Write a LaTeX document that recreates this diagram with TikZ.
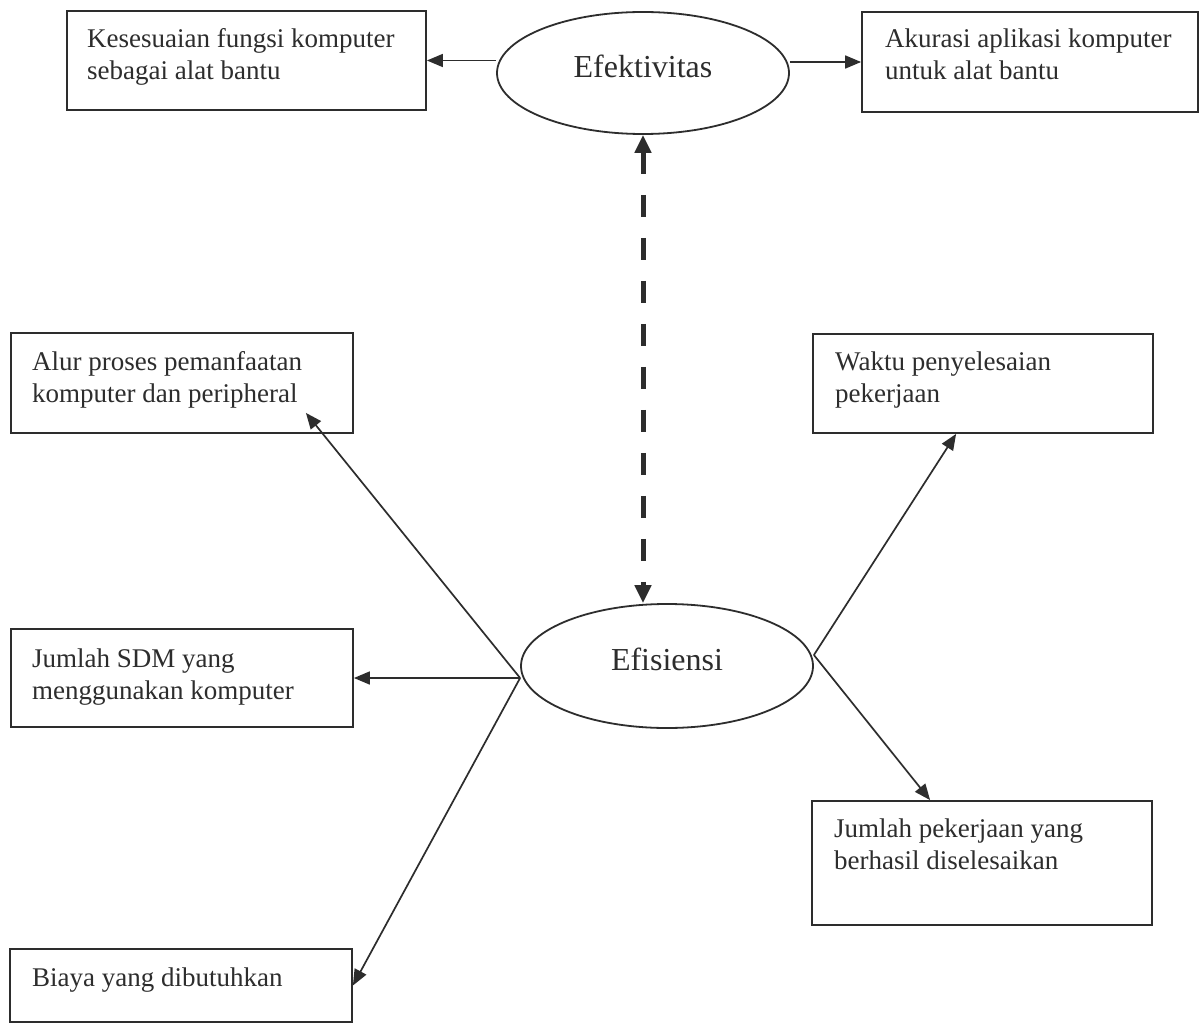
\documentclass[tikz,border=0pt]{standalone}
\usepackage{fontspec}
\setmainfont{Liberation Serif}
\usetikzlibrary{arrows.meta,calc,shapes.geometric}
\definecolor{ink}{RGB}{45,45,45}
\begin{document}
\begin{tikzpicture}[x=1pt,y=-1pt,
  box/.style={draw=ink, line width=1.8pt, rectangle, inner sep=0pt},
  oval/.style={draw=ink, line width=1.8pt, ellipse, inner sep=0pt, minimum width=292pt, minimum height=122pt,
     font=\fontsize{32}{36}\selectfont, text=ink, text height=22pt, text depth=13pt},
  lbl/.style={anchor=base west, align=left, inner sep=0pt, text=ink, font=\fontsize{27}{32}\selectfont},
  arr/.style={draw=ink, line width=1.7pt, -{Triangle[length=16pt,width=13pt]}},
  darr/.style={draw=ink, line width=5pt, dash pattern=on 22pt off 21pt,
     {Triangle[length=18pt,width=16pt]}-{Triangle[length=18pt,width=16pt]}}
]
\useasboundingbox[fill=white] (0,0) rectangle (1204,1024);

% ellipses
\node[oval] (e1) at (643,73) {Efektivitas};
\node[oval, minimum height=124pt] (e2) at (667,666) {Efisiensi};

% boxes (text nodes anchored at the baseline of their last line)
\node[box, minimum width=359pt, minimum height=99pt] (b1) at (246.5,60.5) {};
\node[lbl] (t1) at (87,80) {Kesesuaian fungsi komputer\\sebagai alat bantu};

\node[box, minimum width=336pt, minimum height=100pt] (b3) at (1030,62) {};
\node[lbl] (t3) at (885,80) {Akurasi aplikasi komputer\\untuk alat bantu};

\node[box, minimum width=342pt, minimum height=100pt] (alur) at (182,383) {};
\node[lbl] (talur) at (32,402) {Alur proses pemanfaatan\\komputer dan peripheral};

\node[box, minimum width=340pt, minimum height=99pt] (waktu) at (983,383.5) {};
\node[lbl] (twaktu) at (835,402) {Waktu penyelesaian\\pekerjaan};

\node[box, minimum width=342pt, minimum height=98pt] (sdm) at (182,678) {};
\node[lbl] (tsdm) at (32,699) {Jumlah SDM yang\\menggunakan komputer};

\node[box, minimum width=340pt, minimum height=124pt] (pek) at (982,863) {};
\node[lbl] (tpek) at (834,869) {Jumlah pekerjaan yang\\berhasil diselesaikan};

\node[box, minimum width=342pt, minimum height=73pt] (biaya) at (181,985.5) {};
\node[lbl] (tbiaya) at (32,986) {Biaya yang dibutuhkan};

% connectors
\draw[arr] (b1.east -| e1.west) -- (b1.east);
\draw[arr] (b3.west -| e1.east) -- (b3.west);
\draw[darr] (e1.south) -- (e1.south |- e2.north);

\coordinate (eL) at (e2.west |- sdm.east);
\coordinate (eR) at ($(e2.east)+(0,-11)$);
\coordinate (alurTip) at ($(alur.south east)+(-48,-21)$);
\coordinate (waktuTip) at ($(waktu.south west)+(144,0)$);
\coordinate (pekTip) at ($(pek.north west)+(119,0)$);

\draw[arr] (eL) -- (alurTip);
\draw[arr] (eL) -- (sdm.east);
\draw[arr] (eL) -- (biaya.east);
\draw[arr] (eR) -- (waktuTip);
\draw[arr] (eR) -- (pekTip);
\end{tikzpicture}
\end{document}
